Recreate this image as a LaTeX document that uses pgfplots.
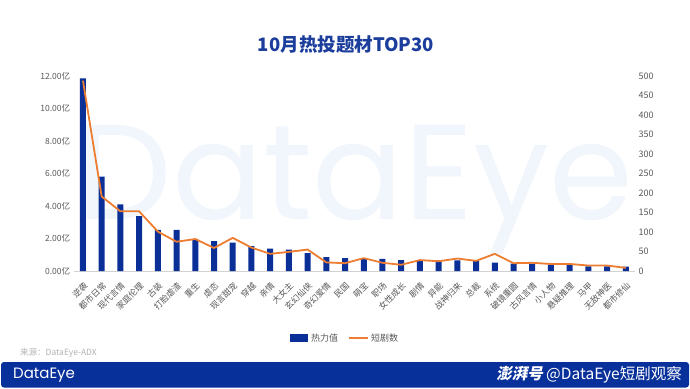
\documentclass[border=0pt]{standalone}
\usepackage{pgfplots}
\pgfplotsset{compat=1.18}
\usepackage{fontspec}
\setmainfont{Noto Sans CJK SC}
\newfontfamily\logofont{Poppins}
\newfontfamily\pengpai{Noto Sans CJK SC}[FakeSlant=0.2]
\definecolor{barblue}{HTML}{0A2F97}
\definecolor{lineorange}{HTML}{ED7D31}
\definecolor{titleblue}{HTML}{1B3D9C}
\definecolor{labgray}{HTML}{595959}
\definecolor{wm}{HTML}{F1F6FC}
\definecolor{banner}{HTML}{08309B}
\begin{document}
\begin{tikzpicture}[x=1pt,y=1pt]
\useasboundingbox (0,0) rectangle (690,388);
\fill[white] (0,0) rectangle (690,388);
\node[text=wm, font=\logofont\fontsize{135}{135}\selectfont] at (355,198) {DataEye};
\node[text=titleblue, font=\bfseries\fontsize{18.5}{18.5}\selectfont] at (346,343) {10月热投题材TOP30};

\begin{axis}[at={(73.6pt,117pt)}, anchor=south west, scale only axis,
  width=561.6pt, height=195pt,
  xmin=-0.5, xmax=29.5, ymin=0, ymax=12,
  xtick={0,...,29},
  xticklabels={逆袭,都市日常,现代言情,家庭伦理,古装,打脸虐渣,重生,虐恋,现言甜宠,穿越,亲情,大女主,玄幻仙侠,奇幻爱情,民国,萌宝,职场,女性成长,剧情,异能,战神归来,总裁,系统,破镜重圆,古风言情,小人物,悬疑推理,马甲,无敌神医,都市修仙},
  ytick={0,2,4,6,8,10,12},
  yticklabels={0.00亿,2.00亿,4.00亿,6.00亿,8.00亿,10.00亿,12.00亿},
  axis line style={draw=none}, major tick length=0,
  tick label style={font=\fontsize{8.5}{9}\selectfont, text=labgray},
  xticklabel shift=9pt,
  xticklabel style={rotate=45, anchor=north east, inner sep=1pt},
  ybar, bar width=6pt, clip=false]
\draw[gray!35, line width=0.8pt] (axis cs:-0.5,0) -- (axis cs:29.5,0);
\addplot[fill=barblue, draw=none] coordinates {
(0,11.85) (1,5.80) (2,4.10) (3,3.38) (4,2.53) (5,2.53) (6,1.95) (7,1.84) (8,1.74) (9,1.53)
(10,1.37) (11,1.31) (12,1.10) (13,0.86) (14,0.80) (15,0.76) (16,0.74) (17,0.67) (18,0.64) (19,0.66)
(20,0.66) (21,0.62) (22,0.51) (23,0.45) (24,0.45) (25,0.39) (26,0.39) (27,0.29) (28,0.29) (29,0.27)};
\end{axis}

\begin{axis}[at={(73.6pt,117pt)}, anchor=south west, scale only axis,
  width=561.6pt, height=195pt,
  xmin=-0.5, xmax=29.5, ymin=0, ymax=500,
  hide x axis, axis y line*=right, axis line style={draw=none},
  ytick={0,50,...,500},
  yticklabels={0,50,100,150,200,250,300,350,400,450,500},
  major tick length=0,
  tick label style={font=\fontsize{9}{9}\selectfont, text=labgray}]
\addplot[lineorange, line width=1.8pt, mark=none, line join=round] coordinates {
(0,488) (1,191) (2,153) (3,153) (4,101) (5,75) (6,82) (7,59) (8,85) (9,60)
(10,44) (11,49) (12,55) (13,22) (14,20) (15,33) (16,21) (17,16) (18,28) (19,25)
(20,32) (21,26) (22,44) (23,20) (24,21) (25,18) (26,18) (27,14) (28,14) (29,8)};
\end{axis}

\fill[barblue] (290,46) rectangle (308,54);
\node[anchor=west, text=labgray, font=\fontsize{9}{9}\selectfont, inner sep=0] at (311,50) {热力值};
\draw[lineorange, line width=1.8pt] (349,50) -- (368,50);
\node[anchor=west, text=labgray, font=\fontsize{9}{9}\selectfont, inner sep=0] at (371,50) {短剧数};

\node[anchor=west, text=gray!60, font=\fontsize{8.5}{9}\selectfont, inner sep=0] at (20,35) {来源：DataEye-ADX};

\fill[banner, rounded corners=3pt] (1,0.5) rectangle (689,26);
\node[anchor=west, text=white, font=\logofont\fontsize{15}{15}\selectfont, inner sep=0] at (13,13) {DataEye};
\node[anchor=east, text=white, font=\fontsize{15.5}{16}\selectfont, inner sep=0] at (682,13.5) {{\pengpai\bfseries 澎湃号} @DataEye短剧观察};
\end{tikzpicture}
\end{document}
